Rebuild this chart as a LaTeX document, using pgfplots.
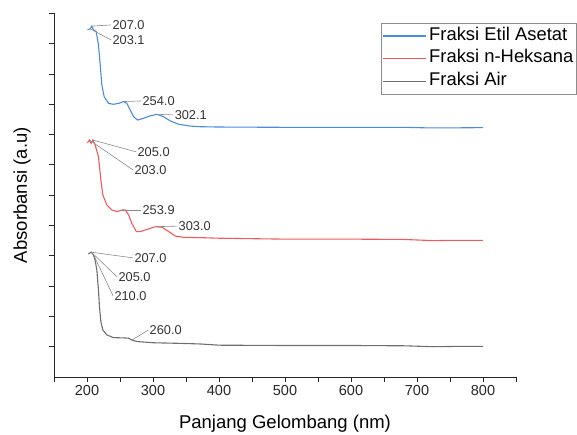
\documentclass[border=0pt]{standalone}
\usepackage{pgfplots}
\pgfplotsset{compat=1.18}
\usepackage{pgfplotstable}
\usepackage{fontspec}
\setmainfont{Liberation Sans}

\definecolor{cblue}{HTML}{4A8BE6}
\definecolor{cred}{HTML}{F25A5A}
\definecolor{cgray}{HTML}{6E6E6E}
\definecolor{lead}{HTML}{8A8A8A}
\tikzset{lbl/.style={anchor=west, inner sep=1pt, text=black!80, font=\fontsize{12.8}{14}\selectfont}}

% etil asetat
\pgfplotstableread{
x y
200.7 11.46
205 11.49
207.3 11.58
209.8 11.46
213.9 11.40
217.4 10.96
220 10.30
222.5 9.64
226 9.25
232.6 9.03
240.2 9.00
247.8 9.03
255.4 9.09
260.5 9.03
265.5 8.81
270.6 8.59
276.7 8.48
285.8 8.54
296 8.62
306 8.67
316 8.59
326.4 8.45
339 8.34
356.8 8.28
372 8.26
400 8.25
500 8.24
600 8.24
680 8.24
720 8.22
740 8.22
800 8.23
}\etil

% n-heksana
\pgfplotstableread{
x y
200.7 7.73
203.7 7.82
206.3 7.71
208.8 7.82
212.3 7.66
217.4 7.27
221 6.50
224 6.01
230 5.68
237.7 5.51
245.3 5.46
253 5.51
258 5.51
263 5.35
268 5.07
274.7 4.80
280.8 4.80
291 4.87
303.6 4.96
313.8 4.94
323.8 4.80
334 4.65
346.6 4.61
372 4.60
400 4.58
500 4.55
600 4.55
680 4.54
725 4.50
750 4.51
800 4.51
}\heksana

% air
\pgfplotstableread{
x y
202 4.06
206.3 4.12
209.8 4.03
212.3 3.86
214.9 3.53
217.4 2.87
218.9 2.32
221 1.83
224 1.55
230 1.39
240 1.30
255.4 1.29
263 1.28
268 1.22
275.7 1.17
301 1.13
341.6 1.11
372 1.09
400 1.05
500 1.04
600 1.04
680 1.03
725 1.00
760 1.01
800 1.01
}\air

\begin{document}
\begin{tikzpicture}
\begin{axis}[
    scale only axis,
    width=462pt, height=363.6pt,
    xmin=150, xmax=850,
    ymin=0, ymax=12,
    axis x line*=bottom,
    axis y line*=left,
    axis line style={line width=1pt, black!85},
    xtick={200,300,...,800},
    minor xtick={150,250,...,850},
    ytick={1,2,...,12},
    yticklabels={},
    tick align=outside,
    major tick length=4.5pt,
    minor tick length=4.5pt,
    every tick/.style={line width=0.9pt, black!85},
    /pgf/number format/assume math mode=true,
    tick label style={font=\fontsize{14.5}{16}\selectfont, text=black!85},
    xlabel={Panjang Gelombang (nm)},
    ylabel={Absorbansi (a.u)},
    label style={font=\fontsize{18.5}{20}\selectfont},
    xlabel style={at={([yshift=-47pt]axis description cs:0.5,0)}, anchor=center},
    ylabel style={at={([xshift=-32pt]axis description cs:0,0.5)}, anchor=center},
    legend style={at={(rel axis cs:0.708,0.974)}, anchor=north west,
        draw=black!45, line width=0.8pt, inner xsep=1pt, inner ysep=1.3pt,
        font=\fontsize{18.4}{20}\selectfont,
        nodes={inner xsep=2.5pt, inner ysep=2.6pt, text height=13pt, text depth=4.5pt}},
    legend cell align=left,
    legend image code/.code={\draw[#1, line width=1.2pt] (0pt,0pt) -- (43pt,0pt);},
  ]
  \addplot[cblue, line width=1.1pt] table {\etil};
  \addlegendentry{Fraksi Etil Asetat}
  \addplot[cred, line width=1.1pt] table {\heksana};
  \addlegendentry{Fraksi n-Heksana}
  \addplot[cgray, line width=1.1pt] table {\air};
  \addlegendentry{Fraksi Air}

  \begin{scope}[lead, line width=0.6pt]
    % etil asetat
    \draw (axis cs:207.3,11.58) -- (axis cs:236.7,11.62) node[lbl] {207.0};
    \draw (axis cs:205,11.49) -- (axis cs:236.7,11.12) node[lbl] {203.1};
    \draw (axis cs:255.4,9.09) -- (axis cs:282.3,9.11) node[lbl] {254.0};
    \draw (axis cs:306,8.67) -- (axis cs:331,8.65) node[lbl] {302.1};
    % n-heksana
    \draw (axis cs:208.8,7.82) -- (axis cs:274.7,7.43) node[lbl] {205.0};
    \draw (axis cs:203.7,7.82) -- (axis cs:270,6.83) node[lbl] {203.0};
    \draw (axis cs:253,5.51) -- (axis cs:282.3,5.51) node[lbl] {253.9};
    \draw (axis cs:303.6,4.96) -- (axis cs:337,4.98) node[lbl] {303.0};
    % air
    \draw (axis cs:206.3,4.12) -- (axis cs:270,3.93) node[lbl] {207.0};
    \draw (axis cs:208,4.09) -- (axis cs:245.8,3.30) node[lbl] {205.0};
    \draw (axis cs:210,4.03) -- (axis cs:239.7,2.67) node[lbl] {210.0};
    \draw (axis cs:268,1.22) -- (axis cs:293,1.55) node[lbl] {260.0};
  \end{scope}
\end{axis}
\pgfresetboundingbox
\path (-54pt,-57pt) rectangle (523pt,377pt);
\end{tikzpicture}
\end{document}
